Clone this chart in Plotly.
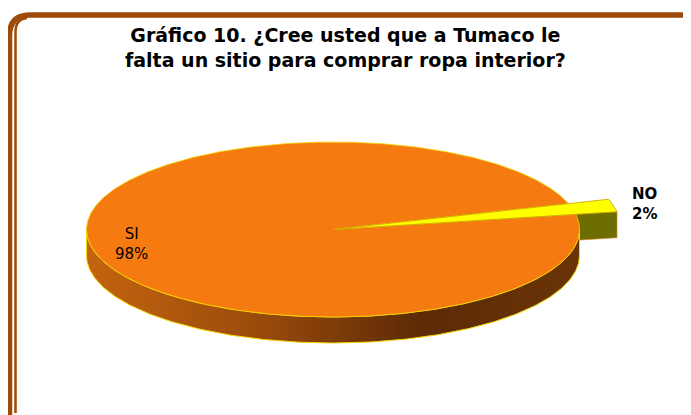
import numpy as np
import plotly.graph_objects as go

# ---- data ----
categories = ["SI", "NO"]
values = [98, 2]
title_lines = ["Gráfico 10. ¿Cree usted que a Tumaco le",
               "falta un sitio para comprar ropa interior?"]

# ---- layout / style parameters ----
W, H = 691, 415
OFF = 8  # page body margin in the html page
cx, cy, a, b, depth = 333, 229.5, 246.5, 87.5, 26
start_deg = 17.2
radius_factor = [1.0, 1.17]
top_colors = ["#F57A10", "#FFFF00"]
cut_colors = ["#C06010", "#6D6D00"]
wall_scale = [[0.0, "#C3640F"], [0.35, "#9A4B0B"], [0.68, "#5C2A05"], [1.0, "#6A3407"]]
border_color = "#9D4A0A"
edge_color = "#F5D800"


def pt(t, r=1.0, dz=0.0):
    t = np.radians(t)
    return cx + r * a * np.cos(t), cy - r * b * np.sin(t) + dz


total = float(sum(values))
spans = []
acc = start_deg
for v in values:
    ang = 360.0 * v / total
    spans.append((acc, acc + ang))
    acc += ang

fig = go.Figure()

# cut face of NO slice (radial face at its lower edge)
i_no = 1
t0 = spans[i_no][0] % 360
r = radius_factor[i_no]
x1, y1 = pt(t0, 0)
x2, y2 = pt(t0, r)
x3, y3 = pt(t0, r, depth)
x4, y4 = pt(t0, 0, depth)
fig.add_trace(go.Scatter(x=[x1, x2, x3, x4, x1], y=[y1, y2, y3, y4, y1],
                         mode="lines", fill="toself", fillcolor=cut_colors[i_no],
                         line=dict(color="#E88A20", width=0.6), hoverinfo="skip"))

# side walls (front-visible part, 180..360 deg)
for i, (s, e) in enumerate(spans):
    segs = []
    for k in (-360, 0, 360):
        l2, h2 = max(s + k, 180), min(e + k, 360)
        if h2 > l2:
            segs.append((l2, h2))
    for (l2, h2) in segs:
        ts = np.linspace(l2, h2, 200)
        xt, yt = pt(ts, radius_factor[i])
        xb, yb = pt(ts[::-1], radius_factor[i], depth)
        xs = np.concatenate([xt, xb, xt[:1]])
        ys = np.concatenate([yt, yb, yt[:1]])
        fig.add_trace(go.Scatter(x=xs, y=ys, mode="lines", fill="toself",
                                 fillgradient=dict(type="horizontal", colorscale=wall_scale),
                                 line=dict(color=edge_color, width=1), hoverinfo="skip"))

# top faces
for i, (s, e) in enumerate(spans):
    ts = np.linspace(s, e, max(int((e - s) * 2), 8))
    xa, ya = pt(ts, radius_factor[i])
    xs = np.concatenate([[cx], xa, [cx]])
    ys = np.concatenate([[cy], ya, [cy]])
    fig.add_trace(go.Scatter(x=xs, y=ys, mode="lines", fill="toself",
                             fillcolor=top_colors[i],
                             line=dict(color=edge_color if i == 0 else "#C8A000", width=0.8),
                             hoverinfo="skip"))

pcts = [f"{100 * v / total:.0f}%" for v in values]

tfont = dict(family="DejaVu Sans", size=19, color="black")
lfont = dict(family="DejaVu Sans", size=15, color="black")
annotations = [
    dict(x=345, y=47, text="<b>" + "<br>".join(title_lines) + "</b>", showarrow=False,
         font=tfont, xanchor="center", yanchor="middle", align="center"),
    dict(x=131, y=244, text=f"{categories[0]}<br>{pcts[0]}", showarrow=False,
         font=lfont, xanchor="center", yanchor="middle", align="center"),
    dict(x=630, y=203.5, text=f"<b>{categories[1]}<br>{pcts[1]}</b>", showarrow=False,
         font=lfont, xanchor="left", yanchor="middle", align="left"),
]

shapes = [
    dict(type="path", xref="x", yref="y",
         path="M 9.5 430 L 9.5 36 Q 9.5 15 30 15 L 700 15",
         line=dict(color=border_color, width=5.5)),
    dict(type="path", xref="x", yref="y",
         path="M 15.5 413 L 15.5 32 Q 15.5 19 27 18",
         line=dict(color=border_color, width=2.5)),
]

fig.update_layout(
    width=W - OFF, height=H - OFF,
    margin=dict(l=0, r=0, t=0, b=0),
    paper_bgcolor="white", plot_bgcolor="white",
    showlegend=False,
    xaxis=dict(range=[OFF, W], visible=False, fixedrange=True),
    yaxis=dict(range=[H, OFF], visible=False, fixedrange=True),
    annotations=annotations,
    shapes=shapes,
)

fig.write_html("out.html")
